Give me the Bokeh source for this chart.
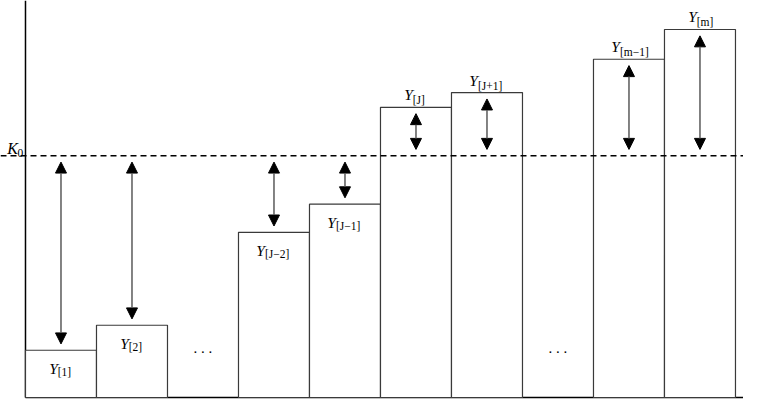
from bokeh.plotting import figure
from bokeh.models import ColumnDataSource, Range1d, Span, Arrow, NormalHead
from bokeh.core.properties import value
from bokeh.embed import file_html
from bokeh.resources import INLINE

# ---- data ----
slots = [0, 1, 3, 4, 5, 6, 8, 9]            # position of each order statistic
values = [1.19, 1.82, 4.16, 4.87, 7.31, 7.68, 8.52, 9.27]
subs = ["[1]", "[2]", "[J\u22122]", "[J\u22121]", "[J]", "[J+1]", "[m\u22121]", "[m]"]
K0 = 6.09
gap_slots = [2, 7]
main_letter = "Y"
thr_letter = "K"
thr_sub = "0"

# ---- layout helpers ----
W, H = 743, 399
bar_w = 1.0
x_start, x_end = -0.352, 10.113
y_start, y_end = -0.05, 10.0
gap = 0.16
FONT = value("Liberation Serif")

p = figure(width=W, height=H, output_backend="svg", toolbar_location=None,
           x_range=Range1d(x_start, x_end), y_range=Range1d(y_start, y_end),
           x_axis_type=None, y_axis_type=None, min_border=0,
           outline_line_color=None, background_fill_color="white",
           border_fill_color="white")
p.grid.visible = False

# axes lines
p.segment(x0=[0, 0], y0=[0, 0], x1=[0, x_end], y1=[y_end, 0],
          line_color="black", line_width=1.5)

# bars
centers = [s + bar_w / 2 for s in slots]
src = ColumnDataSource(dict(left=slots, right=[s + bar_w for s in slots],
                            top=values, bottom=[0] * len(values)))
p.quad(left="left", right="right", top="top", bottom="bottom", source=src,
       fill_color="white", line_color="#3a3a3a", line_width=1.2)

# threshold line
p.add_layout(Span(location=K0, dimension="width", line_color="black",
                  line_width=1.5, line_dash="6 4"))

# arrows
lo = [min(v, K0) + gap for v in values]
hi = [max(v, K0) - gap for v in values]
asrc = ColumnDataSource(dict(x0=centers, y0=lo, x1=centers, y1=hi))
p.add_layout(Arrow(
    start=NormalHead(size=11, fill_color="black", line_color="black", line_width=1),
    end=NormalHead(size=11, fill_color="black", line_color="black", line_width=1),
    x_start="x0", y_start="y0", x_end="x1", y_end="y1", source=asrc,
    line_color="#5a5a5a", line_width=1.5))

# labels
wY = 11.0
sub_w = [len(s) * 5.8 for s in subs]
anchor_off = [-(ws - wY) / 2 for ws in sub_w]
below = [v < K0 for v in values]
yoff_Y = [18 if b else -12.5 for b in below]
yoff_S = [22 if b else -7 for b in below]
lsrc = ColumnDataSource(dict(x=centers, y=values, ytxt=[main_letter] * len(values),
                             sub=subs, xo=anchor_off, yoY=yoff_Y, yoS=yoff_S))
p.text(x="x", y="y", text="ytxt", source=lsrc, x_offset="xo", y_offset="yoY",
       text_align="right", text_baseline="alphabetic",
       text_font=FONT, text_font_style="italic",
       text_font_size="15.5px", text_color="black")
p.text(x="x", y="y", text="sub", source=lsrc, x_offset="xo", y_offset="yoS",
       text_align="left", text_baseline="alphabetic",
       text_font=FONT, text_font_size="11.5px", text_color="black")

# ellipses in the gaps
p.text(x=[g + bar_w / 2 for g in gap_slots], y=[values[0]] * len(gap_slots),
       text=[". . ."] * len(gap_slots), y_offset=-2,
       text_align="center", text_baseline="alphabetic",
       text_font=FONT, text_font_size="15px", text_color="black")

# K0 label
p.text(x=[0], y=[K0], text=[thr_letter], x_offset=-7.5, y_offset=-7,
       text_align="right", text_baseline="alphabetic",
       text_font=FONT, text_font_style="italic",
       text_font_size="16px", text_color="black")
p.text(x=[0], y=[K0], text=[thr_sub], x_offset=-8, y_offset=-3,
       text_align="left", text_baseline="alphabetic",
       text_font=FONT, text_font_size="11.5px", text_color="black")

open("out.html", "w").write(file_html(p, INLINE))
